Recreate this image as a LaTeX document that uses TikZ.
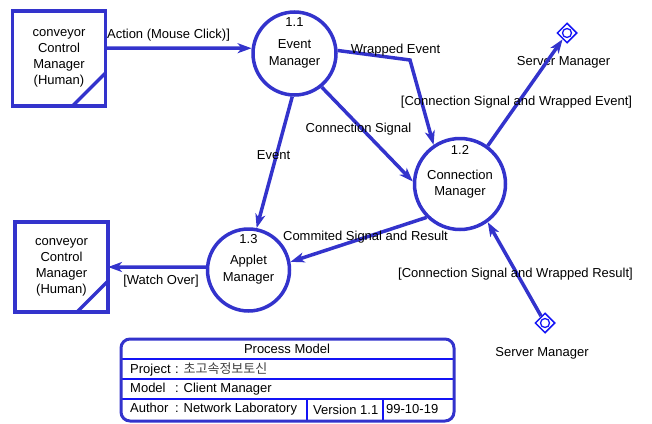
\documentclass[tikz,border=0pt]{standalone}
\usepackage{fontspec}
\setmainfont{Liberation Sans}
\newfontfamily\kofont{Noto Sans CJK KR}
\usetikzlibrary{arrows.meta,shapes.geometric}
\definecolor{dfdblue}{RGB}{51,51,204}
\definecolor{srvblue}{RGB}{20,20,245}
\begin{document}
\begin{tikzpicture}[x=1pt,y=-1pt,
  every node/.style={font=\fontsize{13}{16}\selectfont, inner sep=0pt},
  proc/.style={circle, draw=dfdblue, line width=3.5pt, minimum size=85pt, align=center},
  extent/.style={draw=dfdblue, line width=3.5pt, align=center, minimum width=93pt, outer sep=0pt},
  flow/.style={draw=dfdblue, line width=3.5pt, -{Stealth[length=14pt,width=10pt,inset=4pt]}},
  srv/.style={diamond, draw=srvblue, line width=1.5pt, minimum size=20pt},
  lbl/.style={text=black},
  thin/.style={draw=srvblue, line width=1.3pt}
]
\useasboundingbox (0,0) rectangle (652,423);

% external entities
\node[extent, minimum height=95pt] (src) at (59,58.5) {conveyor\\Control\\Manager\\(Human)};
\draw[dfdblue, line width=3.5pt] ([xshift=-33pt]src.south east) -- ([yshift=33pt]src.south east);
\node[extent, minimum height=90pt] (dst) at (61.5,267) {conveyor\\Control\\Manager\\(Human)};
\draw[dfdblue, line width=3.5pt] ([xshift=-31pt]dst.south east) -- ([yshift=31pt]dst.south east);

% processes
\node[proc, minimum size=83pt] (em) at (294.5,53.5) {Event\\[1pt]Manager};
\node (emno) at (294.5,22) {1.1};
\node[proc, minimum size=91pt] (cm) at (460,184) {Connection\\Manager};
\node (cmno) at (460,150) {1.2};
\node[proc, minimum size=82pt] (am) at (248.5,270) {Applet\\[1pt]Manager};
\node (amno) at (248.5,239) {1.3};

% server managers
\node[srv] (s1) at (567,33) {};
\draw[srvblue, line width=1.3pt] (s1.center) circle (4.5pt);
\node (s1l) at (563.5,62) {Server Manager};
\node[srv] (s2) at (545,323) {};
\draw[srvblue, line width=1.3pt] (s2.center) circle (4.5pt);
\node (s2l) at (542,353) {Server Manager};

% flows
\draw[flow] ([yshift=10.5pt]src.east) -- (em.173);
\coordinate (bend) at (410,60);
\draw[flow] (em.4) -- (bend) -- (cm.124);
\draw[flow] (em.-51) -- (cm.177);
\draw[flow] (em.-93) -- (am.79);
\draw[flow] (cm.225) -- (am.11);
\draw[flow] (am.176) -- (dst.east);
\draw[flow] (cm.54) -- (s1);
\draw[flow] (s2) -- (cm.-54);

% flow labels
\node[lbl] (l1) at (168.5,35) {Action (Mouse Click)]};
\node[lbl] (l2) at (395.5,50) {Wrapped Event};
\node[lbl] (l3) at (516.5,102) {[Connection Signal and Wrapped Event]};
\node[lbl] (l4) at (358.5,129) {Connection Signal};
\node[lbl] (l5) at (273.5,155) {Event};
\node[lbl] (l6) at (365.5,237) {Commited Signal and Result};
\node[lbl] (l7) at (515.5,274) {[Connection Signal and Wrapped Result]};
\node[lbl] (l8) at (161,281) {[Watch Over]};

% title block
\draw[thin] (120,359) -- (455,359);
\draw[thin] (120,379) -- (455,379);
\draw[thin] (120,399) -- (455,399);
\draw[thin] (307,399) -- (307,422);
\draw[thin] (383,399) -- (383,422);
\draw[dfdblue, line width=3pt, rounded corners=9pt] (121,339) rectangle (454,421);
\node (tb0) at (287,349) {Process Model};
\node[anchor=west] (tb1) at (130,369) {\makebox[45pt][l]{Project}: {\kofont\color{black!75}초고속정보토신}};
\node[anchor=west] (tb2) at (130,389) {\makebox[45pt][l]{Model}: Client Manager};
\node[anchor=west] (tb3) at (130,409.5) {\makebox[45pt][l]{Author}: Network Laboratory};
\node[anchor=west] (tb4) at (313,409.5) {Version 1.1};
\node[anchor=west] (tb5) at (386,409.5) {99-10-19};
\end{tikzpicture}
\end{document}
